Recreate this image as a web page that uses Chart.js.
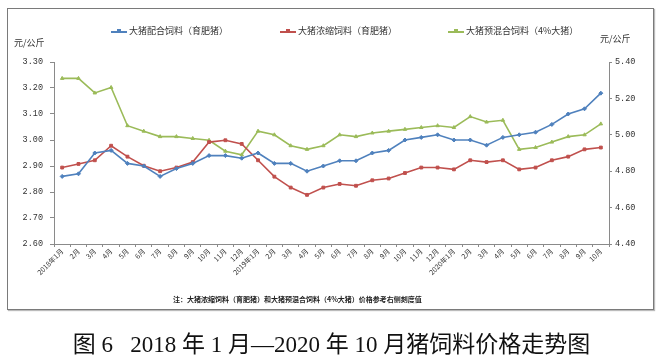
<!DOCTYPE html>
<html>
<head>
<meta charset="utf-8">
<script src="https://cdn.jsdelivr.net/npm/chart.js@4"></script>
<style>
  body{margin:0;background:#fff;width:663px;height:361px;position:relative;overflow:hidden;font-family:"Noto Sans CJK SC",sans-serif;}
  #frame{position:absolute;left:7px;top:8px;width:645px;height:300px;border:1px solid #7a7a7a;box-shadow:1px 1px 1px #bbb;}
  #wrap{position:absolute;left:0;top:0;width:663px;height:361px;}
  .unit{position:absolute;font-size:9px;color:#333;}
  #legend{position:absolute;top:24px;left:0;width:663px;height:14px;}
  .lg{position:absolute;font-size:9px;color:#333;white-space:nowrap;line-height:14px;}
  .lg i{display:inline-block;width:16px;height:2px;vertical-align:middle;margin-right:2px;position:relative;}
  .lg i b{position:absolute;left:6px;top:-1.5px;width:4px;height:4px;}
  #note{position:absolute;left:173px;top:294px;font-size:7px;font-weight:bold;color:#222;white-space:nowrap;}
  #caption{position:absolute;left:0;width:663px;top:325px;text-align:center;font-size:23px;color:#111;font-family:"Liberation Serif","Noto Sans CJK SC",serif;white-space:pre;}
</style>
</head>
<body>
<div id="frame"></div>
<div id="wrap"><canvas id="myChart" width="663" height="361"></canvas></div>
<div class="unit" style="left:14px;top:36px;">元/公斤</div>
<div class="unit" style="left:600px;top:32px;">元/公斤</div>
<div id="legend"></div>
<div id="note">注：大猪浓缩饲料（育肥猪）和大猪预混合饲料（4%大猪）价格参考右侧刻度值</div>
<div id="caption">图 6   2018 年 1 月—2020 年 10 月猪饲料价格走势图</div>
<script>
const months = ["2018年1月","2月","3月","4月","5月","6月","7月","8月","9月","10月","11月","12月",
  "2019年1月","2月","3月","4月","5月","6月","7月","8月","9月","10月","11月","12月",
  "2020年1月","2月","3月","4月","5月","6月","7月","8月","9月","10月"];
const seriesNames = ["大猪配合饲料（育肥猪）","大猪浓缩饲料（育肥猪）","大猪预混合饲料（4%大猪）"];
// 左轴
const peihe = [2.86,2.87,2.95,2.96,2.91,2.90,2.86,2.89,2.91,2.94,2.94,2.93,
  2.95,2.91,2.91,2.88,2.90,2.92,2.92,2.95,2.96,3.00,3.01,3.02,
  3.00,3.00,2.98,3.01,3.02,3.03,3.06,3.10,3.12,3.18];
// 右轴
const nongsuo = [4.82,4.84,4.86,4.94,4.88,4.83,4.80,4.82,4.85,4.96,4.97,4.95,
  4.86,4.77,4.71,4.67,4.71,4.73,4.72,4.75,4.76,4.79,4.82,4.82,
  4.81,4.86,4.85,4.86,4.81,4.82,4.86,4.88,4.92,4.93];
const yuhun = [5.31,5.31,5.23,5.26,5.05,5.02,4.99,4.99,4.98,4.97,4.91,4.89,
  5.02,5.00,4.94,4.92,4.94,5.00,4.99,5.01,5.02,5.03,5.04,5.05,
  5.04,5.10,5.07,5.08,4.92,4.93,4.96,4.99,5.00,5.06];
const colors = ["#4f81bd","#c0504d","#9bbb59"];
const markers = ["rectRot","rect","triangle"];

// legend
const legendX = [111,280,448];
const lg = document.getElementById("legend");
seriesNames.forEach(function(n,i){
  const d = document.createElement("div");
  d.className = "lg";
  d.style.left = legendX[i]+"px";
  d.innerHTML = '<i style="background:'+colors[i]+'"><b style="background:'+colors[i]+'"></b></i>'+n;
  lg.appendChild(d);
});

const axisColor = "#8a8a8a";
const tickFont = {family:"Liberation Mono", size:8.5};

new Chart("myChart", {
  type: "line",
  data: {
    labels: months,
    datasets: [
      {label:seriesNames[0], data:peihe, yAxisID:"y", borderColor:colors[0], backgroundColor:colors[0], pointStyle:markers[0]},
      {label:seriesNames[1], data:nongsuo, yAxisID:"y1", borderColor:colors[1], backgroundColor:colors[1], pointStyle:markers[1]},
      {label:seriesNames[2], data:yuhun, yAxisID:"y1", borderColor:colors[2], backgroundColor:colors[2], pointStyle:markers[2]}
    ]
  },
  options: {
    responsive: false,
    animation: false,
    layout: {padding: {top: 62, left: 0, right: 0, bottom: 0}},
    elements: {
      line: {borderWidth: 1.6, tension: 0},
      point: {radius: 2, borderWidth: 1}
    },
    plugins: {legend: {display: false}, tooltip: {enabled: false}},
    scales: {
      x: {
        offset: true,
        grid: {offset: true, drawOnChartArea: false, color: axisColor, tickLength: 3},
        border: {color: axisColor},
        ticks: {autoSkip: false, minRotation: 45, maxRotation: 45, padding: 0,
          font: {family: "Noto Sans CJK SC", size: 7}, color: "#333"},
        afterFit: function(s){ s.height = 117; }
      },
      y: {
        position: "left",
        min: 2.6, max: 3.3,
        grid: {drawOnChartArea: false, color: axisColor, tickLength: 4},
        border: {color: axisColor},
        ticks: {stepSize: 0.1, padding: 7, font: tickFont, color: "#333",
          callback: function(v){ return v.toFixed(2); }},
        afterFit: function(s){ s.width = 54; }
      },
      y1: {
        position: "right",
        min: 4.4, max: 5.4,
        grid: {drawOnChartArea: false, color: axisColor, tickLength: 3},
        border: {color: axisColor},
        ticks: {stepSize: 0.2, padding: 3, font: tickFont, color: "#333",
          callback: function(v){ return v.toFixed(2); }},
        afterFit: function(s){ s.width = 54; }
      }
    }
  }
});
</script>
</body>
</html>
